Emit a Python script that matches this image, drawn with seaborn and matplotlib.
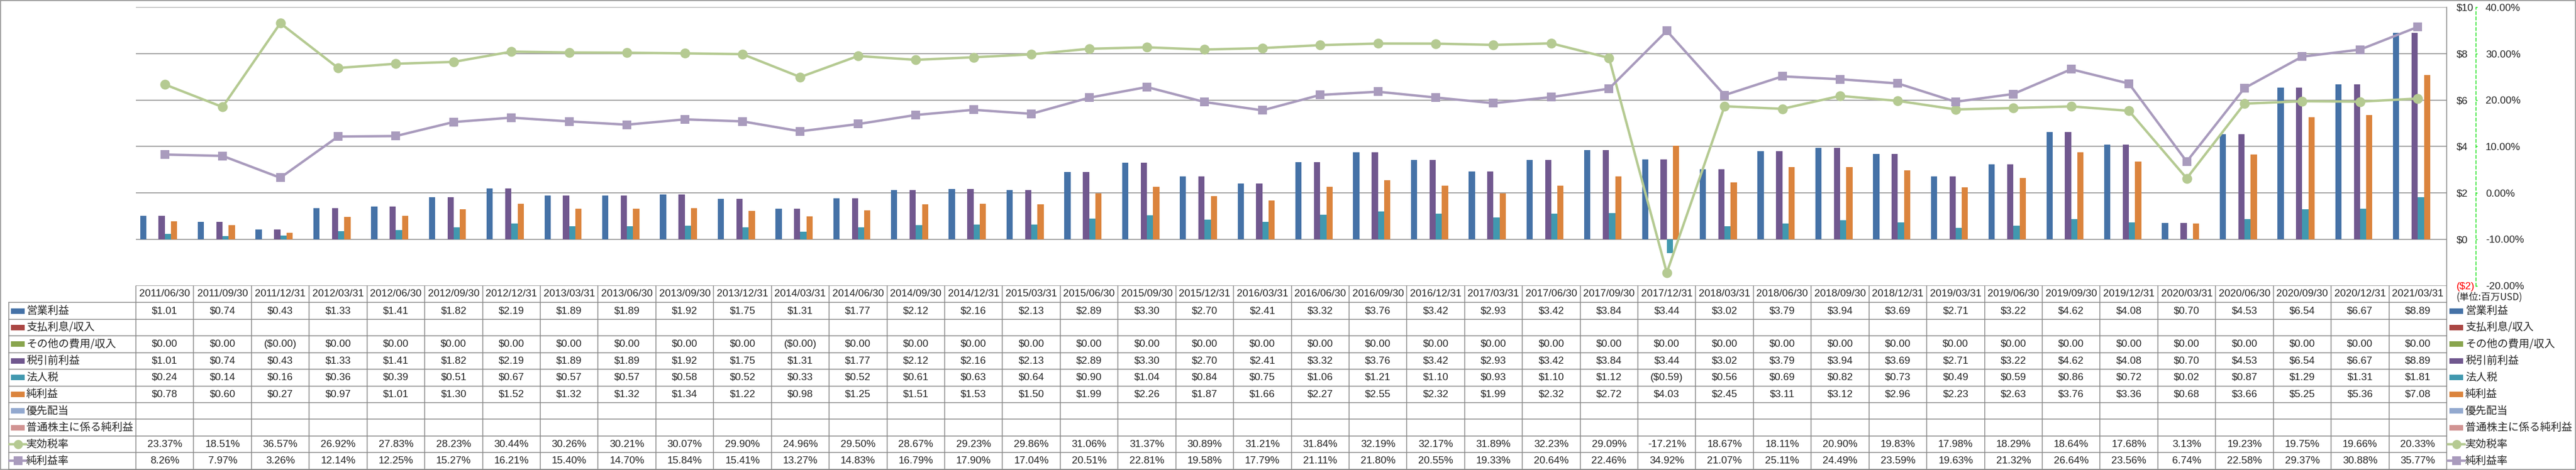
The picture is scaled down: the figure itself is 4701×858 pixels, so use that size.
import numpy as np
import pandas as pd
import seaborn as sns
import matplotlib.pyplot as plt
from matplotlib.lines import Line2D
from matplotlib.patches import Rectangle

# quarter end dates
dates = ["2011/06/30", "2011/09/30", "2011/12/31", "2012/03/31", "2012/06/30", "2012/09/30",
         "2012/12/31", "2013/03/31", "2013/06/30", "2013/09/30", "2013/12/31", "2014/03/31",
         "2014/06/30", "2014/09/30", "2014/12/31", "2015/03/31", "2015/06/30", "2015/09/30",
         "2015/12/31", "2016/03/31", "2016/06/30", "2016/09/30", "2016/12/31", "2017/03/31",
         "2017/06/30", "2017/09/30", "2017/12/31", "2018/03/31", "2018/06/30", "2018/09/30",
         "2018/12/31", "2019/03/31", "2019/06/30", "2019/09/30", "2019/12/31", "2020/03/31",
         "2020/06/30", "2020/09/30", "2020/12/31", "2021/03/31"]

# values in million USD
op_income = [1.01, 0.74, 0.43, 1.33, 1.41, 1.82, 2.19, 1.89, 1.89, 1.92, 1.75, 1.31, 1.77, 2.12,
             2.16, 2.13, 2.89, 3.30, 2.70, 2.41, 3.32, 3.76, 3.42, 2.93, 3.42, 3.84, 3.44, 3.02,
             3.79, 3.94, 3.69, 2.71, 3.22, 4.62, 4.08, 0.70, 4.53, 6.54, 6.67, 8.89]
other_exp = [0.0, 0.0, -0.004, 0.0, 0.0, 0.0, 0.0, 0.0, 0.0, 0.0, 0.0, -0.004, 0.0, 0.0,
             0.0, 0.0, 0.0, 0.0, 0.0, 0.0, 0.0, 0.0, 0.0, 0.0, 0.0, 0.0, 0.0, 0.0,
             0.0, 0.0, 0.0, 0.0, 0.0, 0.0, 0.0, 0.0, 0.0, 0.0, 0.0, 0.0]
pretax = [1.01, 0.74, 0.43, 1.33, 1.41, 1.82, 2.19, 1.89, 1.89, 1.92, 1.75, 1.31, 1.77, 2.12,
          2.16, 2.13, 2.89, 3.30, 2.70, 2.41, 3.32, 3.76, 3.42, 2.93, 3.42, 3.84, 3.44, 3.02,
          3.79, 3.94, 3.69, 2.71, 3.22, 4.62, 4.08, 0.70, 4.53, 6.54, 6.67, 8.89]
tax = [0.24, 0.14, 0.16, 0.36, 0.39, 0.51, 0.67, 0.57, 0.57, 0.58, 0.52, 0.33, 0.52, 0.61,
       0.63, 0.64, 0.90, 1.04, 0.84, 0.75, 1.06, 1.21, 1.10, 0.93, 1.10, 1.12, -0.59, 0.56,
       0.69, 0.82, 0.73, 0.49, 0.59, 0.86, 0.72, 0.02, 0.87, 1.29, 1.31, 1.81]
net_income = [0.78, 0.60, 0.27, 0.97, 1.01, 1.30, 1.52, 1.32, 1.32, 1.34, 1.22, 0.98, 1.25, 1.51,
              1.53, 1.50, 1.99, 2.26, 1.87, 1.66, 2.27, 2.55, 2.32, 1.99, 2.32, 2.72, 4.03, 2.45,
              3.11, 3.12, 2.96, 2.23, 2.63, 3.76, 3.36, 0.68, 3.66, 5.25, 5.36, 7.08]
# percentages
eff_tax_rate = [23.37, 18.51, 36.57, 26.92, 27.83, 28.23, 30.44, 30.26, 30.21, 30.07, 29.90, 24.96,
                29.50, 28.67, 29.23, 29.86, 31.06, 31.37, 30.89, 31.21, 31.84, 32.19, 32.17, 31.89,
                32.23, 29.09, -17.21, 18.67, 18.11, 20.90, 19.83, 17.98, 18.29, 18.64, 17.68, 3.13,
                19.23, 19.75, 19.66, 20.33]
net_margin = [8.26, 7.97, 3.26, 12.14, 12.25, 15.27, 16.21, 15.40, 14.70, 15.84, 15.41, 13.27,
              14.83, 16.79, 17.90, 17.04, 20.51, 22.81, 19.58, 17.79, 21.11, 21.80, 20.55, 19.33,
              20.64, 22.46, 34.92, 21.07, 25.11, 24.49, 23.59, 19.63, 21.32, 26.64, 23.56, 6.74,
              22.58, 29.37, 30.88, 35.77]

row_labels = ["営業利益", "支払利息/収入", "その他の費用/収入", "税引前利益", "法人税", "純利益",
              "優先配当", "普通株主に係る純利益", "実効税率", "純利益率"]
row_colors = ["#4572A7", "#AA4643", "#89A54E", "#71588F", "#4198AF", "#DB843D",
              "#93A9CF", "#D19392", "#B5CA92", "#A99BBD"]
palette = dict(zip(row_labels[:8], row_colors[:8]))
green_line = "#B5CA92"
purple_line = "#A99BBD"
grid_col = "#878787"

W, H = 4701, 858
sns.set_style("white")
plt.rcParams['font.family'] = ['Liberation Sans', 'Noto Sans CJK JP', 'DejaVu Sans']
jp = ['Noto Sans CJK JP', 'DejaVu Sans']

fig = plt.figure(figsize=(W / 100, H / 100), dpi=100)


def fx(px):
    return px / W


def fy(py):
    return 1 - py / H


x_left, x_right = 248, 4465
y_top, y_bot = 13.3, 521.5
ax = fig.add_axes([fx(x_left), fy(y_bot), fx(x_right) - fx(x_left), fy(y_top) - fy(y_bot)])

bar_series = {"営業利益": op_income, "その他の費用/収入": other_exp, "税引前利益": pretax,
              "法人税": tax, "純利益": net_income}
df = pd.concat([pd.DataFrame({"date": dates, "series": k, "value": v}) for k, v in bar_series.items()])
sns.barplot(data=df, x="date", y="value", hue="series", order=dates, hue_order=row_labels[:8],
            palette=palette, width=0.857, errorbar=None, legend=False, saturation=1,
            linewidth=0, ax=ax)

ax2 = ax.twinx()
xs = np.arange(len(dates))
sns.lineplot(x=xs, y=eff_tax_rate, ax=ax2, color=green_line, lw=3.2, marker='o',
             markersize=13, markeredgewidth=0, legend=False)
sns.lineplot(x=xs, y=net_margin, ax=ax2, color=purple_line, lw=3.2, marker='s',
             markersize=12, markeredgewidth=0, legend=False)

ax.set_xlim(-0.5, len(dates) - 0.5)
ax.set_ylim(-2, 10)
ax2.set_ylim(-20, 40)

# left ($) axis, labels on the right side
yt = np.arange(-2, 11, 2)
ax.set_yticks(yt)
ax.set_yticklabels([f"${v}" if v >= 0 else f"(${-v})" for v in yt])
ax.yaxis.tick_right()
ax.tick_params(axis='y', length=0, pad=13, labelsize=13.5)
ax.tick_params(axis='x', bottom=False, labelbottom=False)
for lab in ax.get_yticklabels():
    if lab.get_text().startswith("("):
        lab.set_color("#FF0000")
ax.set_xlabel("")
ax.set_ylabel("")
ax.grid(axis='y', color=grid_col, lw=1.1)
ax.set_axisbelow(True)
for sp in ax.spines.values():
    sp.set_visible(False)

# right (%) axis
pt = 72 / 100
yt2 = np.arange(-20, 41, 10)
ax2.set_yticks(yt2)
ax2.set_yticklabels([f"{v:.2f}%" for v in yt2])
for lab in ax2.get_yticklabels():
    if lab.get_text().startswith("-"):
        lab.set_color("#FF0000")
ax2.tick_params(axis='y', length=3 * pt, width=1, color="#00E000", pad=15 * pt, labelsize=13.5)
ax2.set_ylabel("")
for k in ["top", "left", "bottom"]:
    ax2.spines[k].set_visible(False)
ax2.spines["right"].set_position(("outward", 53 * pt))
ax2.spines["right"].set_color("#00E000")
ax2.spines["right"].set_linestyle((0, (4, 3)))
ax2.spines["right"].set_linewidth(1)


def hline(y, x0, x1, **kw):
    fig.add_artist(Line2D([fx(x0), fx(x1)], [fy(y), fy(y)], transform=fig.transFigure,
                          color=grid_col, lw=1.1, **kw))


def vline(x, y0, y1, **kw):
    fig.add_artist(Line2D([fx(x), fx(x)], [fy(y0), fy(y1)], transform=fig.transFigure,
                          color=grid_col, lw=1.1, **kw))


# data table
row_top = 552.3
row_h = 30.44
col_w = (x_right - x_left) / len(dates)
table_bot = row_top + row_h * len(row_labels)

for r in range(len(row_labels) + 1):
    hline(row_top + r * row_h, 16, x_right)
vline(16, row_top, table_bot)
for c in range(len(dates)):
    vline(x_left + c * col_w, y_bot, table_bot)
vline(x_right, y_top, table_bot)

for c, d in enumerate(dates):
    fig.text(fx(x_left + (c + 0.5) * col_w), fy((y_bot + row_top) / 2), d,
             ha='center', va='center', fontsize=13.5)


def money(v):
    return f"${v:.2f}" if v >= 0 else f"(${-v:.2f})"


row_values = {0: [money(v) for v in op_income], 2: [money(v) for v in other_exp],
              3: [money(v) for v in pretax], 4: [money(v) for v in tax],
              5: [money(v) for v in net_income], 8: [f"{v:.2f}%" for v in eff_tax_rate],
              9: [f"{v:.2f}%" for v in net_margin]}
for r, vals in row_values.items():
    cy = row_top + (r + 0.5) * row_h
    for c, s in enumerate(vals):
        fig.text(fx(x_left + (c + 0.5) * col_w), fy(cy), s, ha='center', va='center', fontsize=13.5)


def legend_key(x0, cy, r):
    col = row_colors[r]
    if r < 8:
        fig.add_artist(Rectangle((fx(x0), fy(cy + 5)), 25 / W, 10 / H, transform=fig.transFigure,
                                 facecolor=col, edgecolor='none'))
    else:
        fig.add_artist(Line2D([fx(x0 - 3), fx(x0 + 28)], [fy(cy), fy(cy)], transform=fig.transFigure,
                              color=col, lw=3.2))
        fig.add_artist(Line2D([fx(x0 + 12.5)], [fy(cy)], transform=fig.transFigure, color=col,
                              marker='o' if r == 8 else 's', markersize=12, markeredgewidth=0))


for r, lab in enumerate(row_labels):
    cy = row_top + (r + 0.5) * row_h
    legend_key(20, cy, r)
    fig.text(fx(48), fy(cy), lab, ha='left', va='center', fontsize=14, family=jp)
    legend_key(4470, cy, r)
    fig.text(fx(4499), fy(cy), lab, ha='left', va='center', fontsize=14, family=jp)

fig.text(fx(4482), fy(542), "(単位:百万USD)", ha='left', va='center', fontsize=12.5, family=jp)

# outer frame
hline(1, 0.5, W - 1)
hline(H - 1, 0.5, W - 1)
vline(0.8, 1, H - 1)
vline(W - 1, 1, H - 1)

fig.savefig("out.png", dpi=100)
